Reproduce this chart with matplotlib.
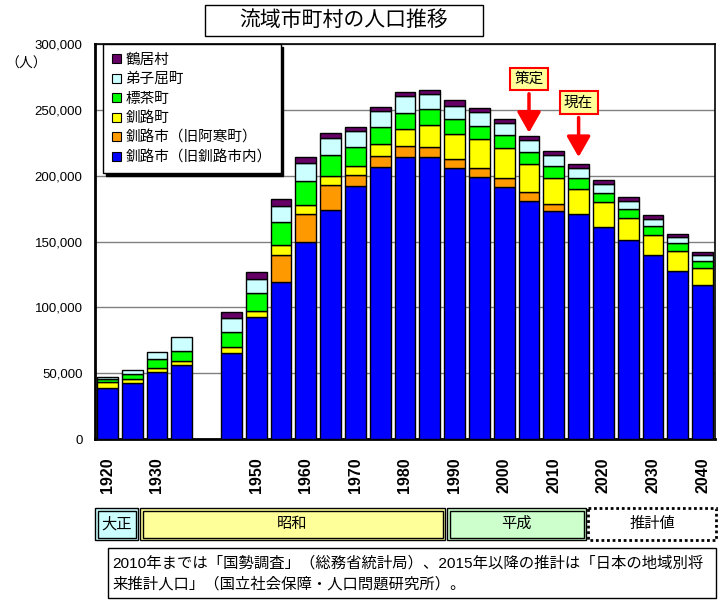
import numpy as np
import matplotlib
matplotlib.use('Agg')
import matplotlib.pyplot as plt
from matplotlib.patches import Patch, Rectangle

plt.rcParams['font.family'] = ['Liberation Sans', 'Noto Sans CJK JP', 'DejaVu Sans']

# Data (persons):
years = [1920, 1925, 1930, 1935, 1940, 1945, 1950, 1955, 1960, 1965, 1970, 1975, 1980,
         1985, 1990, 1995, 2000, 2005, 2010, 2015, 2020, 2025, 2030, 2035, 2040]
tick_labels = ['1920', '', '1930', '', '', '', '1950', '', '1960', '', '1970', '', '1980',
               '', '1990', '', '2000', '', '2010', '', '2020', '', '2030', '', '2040']

kushiro_old = [39000, 42800, 50900, 56000, 0, 65100, 92700, 119200, 149800, 173900, 191900, 206600, 214200,
               214400, 205600, 199000, 191200, 180800, 173200, 170700, 161200, 150900, 140000, 127800, 116700]
kushiro_akan = [0, 0, 0, 0, 0, 0, 0, 20500, 21300, 18800, 8600, 8400, 8400,
                7600, 7100, 6800, 6800, 6800, 5100, 0, 0, 0, 0, 0, 0]
kushiro_town = [4000, 3000, 3300, 3500, 0, 4600, 4800, 7600, 6800, 7100, 6800, 9300, 13100,
                16200, 18800, 22300, 23200, 21300, 20200, 19400, 18800, 17200, 15300, 15000, 13400]
shibecha = [2800, 3300, 6800, 7600, 0, 11900, 13200, 17200, 18200, 16200, 14700, 12900, 12200,
            12200, 11400, 9900, 9400, 9300, 8900, 7900, 7100, 6800, 6400, 5800, 5100]
teshikaga = [1000, 3000, 4900, 10200, 0, 10200, 10900, 12600, 13200, 12700, 11900, 11700, 12500,
             11400, 9900, 10600, 9300, 8900, 8400, 7600, 6600, 5800, 5600, 4900, 4700]
tsurui = [0, 0, 0, 0, 0, 4500, 5500, 4900, 5000, 4000, 2800, 3500, 3300,
          3600, 4300, 3000, 3000, 3000, 3000, 3000, 3000, 2800, 2500, 2500, 2500]

series_names = ['釧路市（旧釧路市内）', '釧路市（旧阿寒町）', '釧路町', '標茶町', '弟子屈町', '鶴居村']
series_colors = ['#0000ff', '#ff9900', '#ffff00', '#00ff00', '#ccffff', '#660066']
series_values = [kushiro_old, kushiro_akan, kushiro_town, shibecha, teshikaga, tsurui]

eras = ['大正', '昭和', '平成', '推計値']
era_colors = ['#ccffff', '#ffff99', '#ccffcc', '#ffffff']
era_px = [(95, 138), (140, 445), (447, 586), (588, 716)]

# Create the figure:
fig = plt.figure(figsize=(7.2, 6.01), dpi=100)
ax = fig.add_axes([95 / 720, (601 - 439) / 601, 620 / 720, 395 / 601])

x = np.arange(len(years))
bottom = np.zeros(len(years))
for vals, col in zip(series_values, series_colors):
    vals = np.array(vals, dtype=float)
    keep = vals > 0
    ax.bar(x[keep], vals[keep], bottom=bottom[keep], width=0.84, color=col,
           edgecolor='black', linewidth=1.0, zorder=3)
    bottom += vals
totals = bottom

ax.set_xlim(-0.5, len(years) - 0.5)
ax.set_ylim(0, 300000)
ax.set_yticks(np.arange(0, 300001, 50000))
ax.set_yticklabels(['{:,}'.format(v) for v in range(0, 300001, 50000)], fontsize=9.5)
ax.set_xticks(x)
ax.set_xticklabels(tick_labels, rotation=90, fontsize=11.5, fontweight='bold')
ax.tick_params(axis='both', length=0)
ax.tick_params(axis='y', pad=9)
ax.tick_params(axis='x', pad=13)
ax.grid(axis='y', color='#808080', linewidth=1.0, zorder=0)
ax.set_axisbelow(True)
for side in ['top', 'right']:
    ax.spines[side].set_linewidth(1.2)
for side in ['left', 'bottom']:
    ax.spines[side].set_linewidth(2.0)

# Legend (top segment first):
handles = [Patch(facecolor=c, edgecolor='black', linewidth=0.8) for c in series_colors][::-1]
leg = ax.legend(handles, series_names[::-1], loc='upper left', bbox_to_anchor=(0.013, 1.0),
                borderaxespad=0, fontsize=10.5, handlelength=0.6, handleheight=0.6,
                handletextpad=0.35, labelspacing=0.38, borderpad=0.6, fancybox=False,
                edgecolor='black', framealpha=1,
                shadow={'color': 'black', 'alpha': 1})
leg.get_frame().set_linewidth(1.0)
leg.set_zorder(10)

# Annotations:
i_plan = years.index(2005)
i_now = years.index(2015)
arrow = dict(arrowstyle='-|>,head_length=0.7,head_width=0.4', color='red', lw=2.5,
             mutation_scale=18, shrinkA=2, shrinkB=0)
box = dict(boxstyle='square,pad=0.3', fc='#ffff99', ec='red', lw=1.5)
ax.annotate('策定', xy=(i_plan, totals[i_plan] + 2500), xytext=(i_plan, 273500),
            ha='center', va='center', fontsize=10.5, arrowprops=arrow, bbox=box, zorder=11)
ax.annotate('現在', xy=(i_now, totals[i_now] + 5500), xytext=(i_now, 255500),
            ha='center', va='center', fontsize=10.5, arrowprops=arrow, bbox=box, zorder=11)

# Overlay in pixel coordinates for boxes around the chart:
ov = fig.add_axes([0, 0, 1, 1], zorder=5)
ov.set_xlim(0, 720)
ov.set_ylim(601, 0)
ov.axis('off')

ov.add_patch(Rectangle((205, 5), 278, 31, fc='white', ec='black', lw=1.0))
ov.text(344, 20.5, '流域市町村の人口推移', ha='center', va='center', fontsize=15)
ov.text(26, 64, '（人）', ha='center', va='center', fontsize=10)

for name, col, (x0, x1) in zip(eras, era_colors, era_px):
    if name == '推計値':
        ov.add_patch(Rectangle((x0, 508), x1 - x0, 32, fc=col, ec='black', lw=2.0,
                               linestyle=(0, (1, 1))))
    else:
        ov.add_patch(Rectangle((x0, 508), x1 - x0, 32, fc=col, ec='black', lw=1.0))
        ov.add_patch(Rectangle((x0 + 2.5, 510.5), x1 - x0 - 5, 27, fc='none', ec='black', lw=1.0))
    ov.text((x0 + x1) / 2, 524, name, ha='center', va='center', fontsize=11)

ov.add_patch(Rectangle((108, 548), 608, 50, fc='white', ec='black', lw=1.0))
ov.text(112, 563, '2010年までは「国勢調査」（総務省統計局）、2015年以降の推計は「日本の地域別将',
        ha='left', va='center', fontsize=11.05)
ov.text(112, 584, '来推計人口」（国立社会保障・人口問題研究所）。',
        ha='left', va='center', fontsize=11.05)

plt.savefig('out.png', dpi=100)
